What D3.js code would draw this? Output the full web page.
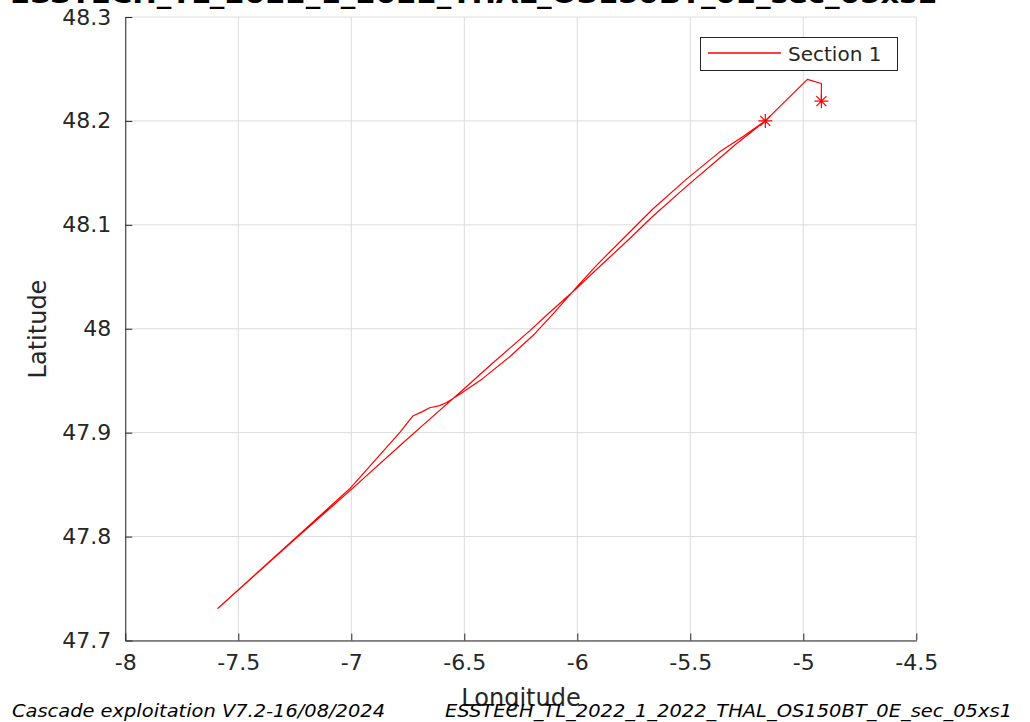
<!DOCTYPE html>
<html>
<head>
<meta charset="utf-8">
<script src="https://cdn.jsdelivr.net/npm/d3@7"></script>
<style>
  html, body { margin: 0; padding: 0; background: #ffffff; }
  svg { display: block; }
  text { font-family: "DejaVu Sans", sans-serif; fill: #262626; }
</style>
</head>
<body>
<svg id="chart" width="1030" height="722"></svg>
<script>
// Ship track of section 1 (longitude / latitude, degrees), in sailing order
const trackLon = [
  -4.920, -4.920, -4.982, -5.168,
  -5.296, -5.371, -5.517, -5.667, -5.782, -5.915, -6.003, -6.136, -6.211,
  -6.374, -6.507, -6.653, -6.772, -7.007, -7.241, -7.590,
  -7.241, -7.007, -6.909, -6.786, -6.728, -6.688, -6.653, -6.609, -6.578,
  -6.520, -6.419, -6.299, -6.189, -6.100, -6.003, -5.915, -5.782, -5.667,
  -5.517, -5.371, -5.260, -5.168
];
const trackLat = [
  48.219, 48.236, 48.240, 48.200,
  48.178, 48.164, 48.137, 48.108, 48.084, 48.057, 48.039, 48.013, 47.998,
  47.967, 47.941, 47.913, 47.890, 47.844, 47.799, 47.731,
  47.800, 47.846, 47.870, 47.900, 47.916, 47.920, 47.924, 47.926, 47.929,
  47.937, 47.952, 47.973, 47.995, 48.016, 48.040, 48.061, 48.090, 48.115,
  48.144, 48.170, 48.186, 48.200
];
// Start and end of the section, marked with asterisks
const markerLon = [trackLon[0], trackLon[trackLon.length - 1]];
const markerLat = [trackLat[0], trackLat[trackLat.length - 1]];

const xTicks = [-8, -7.5, -7, -6.5, -6, -5.5, -5, -4.5];
const yTicks = [47.7, 47.8, 47.9, 48, 48.1, 48.2, 48.3];
const seriesName = "Section 1";
const titleText = "ESSTECH_TL_2022_1_2022_THAL_OS150BT_0E_sec_05xs1";
const footLeft = "Cascade exploitation V7.2-16/08/2024";
const footRight = "ESSTECH_TL_2022_1_2022_THAL_OS150BT_0E_sec_05xs1";

const svg = d3.select("#chart");
const plot = { left: 125.3, right: 916.3, top: 17, bottom: 640.5 };

const x = d3.scaleLinear().domain([-8, -4.5]).range([plot.left, plot.right]);
const y = d3.scaleLinear().domain([47.7, 48.3]).range([plot.bottom, plot.top]);

// grid
const grid = svg.append("g").attr("stroke", "#dcdcdc").attr("stroke-width", 1);
grid.selectAll("line.gx").data(xTicks).join("line")
  .attr("x1", d => x(d)).attr("x2", d => x(d))
  .attr("y1", plot.top).attr("y2", plot.bottom);
grid.selectAll("line.gy").data(yTicks).join("line")
  .attr("x1", plot.left).attr("x2", plot.right)
  .attr("y1", d => y(d)).attr("y2", d => y(d));

// axes
const xAxis = d3.axisBottom(x).tickValues(xTicks).tickSizeInner(-7).tickSizeOuter(0)
  .tickPadding(14).tickFormat(d => d3.format("")(d).replace("−", "-"));
const yAxis = d3.axisLeft(y).tickValues(yTicks).tickSizeInner(-7).tickSizeOuter(0)
  .tickPadding(14).tickFormat(d => d3.format("")(d));

const gx = svg.append("g").attr("transform", `translate(0,${plot.bottom})`).call(xAxis);
const gy = svg.append("g").attr("transform", `translate(${plot.left},0)`).call(yAxis);
[gx, gy].forEach(g => {
  g.select(".domain").attr("stroke", "#262626").attr("stroke-width", 1);
  g.selectAll(".tick line").attr("stroke", "#262626");
  g.selectAll(".tick text").attr("fill", "#262626")
    .style("font-family", "'DejaVu Sans', sans-serif").style("font-size", "22px");
});
gx.selectAll(".tick text").attr("dy", "0.71em");

// track
const line = d3.line().x((d, i) => x(trackLon[i])).y((d, i) => y(trackLat[i]));
svg.append("path")
  .datum(trackLon)
  .attr("d", line)
  .attr("fill", "none")
  .attr("stroke", "#ff0000")
  .attr("stroke-width", 1.2)
  .attr("stroke-linejoin", "round");

// asterisk markers
const star = "M-7,0L7,0M0,-7L0,7M-5,-5L5,5M-5,5L5,-5";
svg.selectAll("path.marker").data(markerLon).join("path")
  .attr("class", "marker")
  .attr("transform", (d, i) => `translate(${x(d)},${y(markerLat[i])})`)
  .attr("d", star)
  .attr("stroke", "#ff0000")
  .attr("stroke-width", 1.2)
  .attr("fill", "none");

// legend
const leg = svg.append("g");
leg.append("rect").attr("x", 700.5).attr("y", 37.5).attr("width", 197).attr("height", 33)
  .attr("fill", "#ffffff").attr("stroke", "#262626").attr("stroke-width", 1);
leg.append("path").attr("d", "M708,53L781,53")
  .attr("stroke", "#ff0000").attr("stroke-width", 1.4).attr("fill", "none");
leg.append("text").attr("x", 788).attr("y", 61).style("font-size", "20px").text(seriesName);

// axis labels
svg.append("text").attr("x", 521).attr("y", 706).attr("text-anchor", "middle")
  .style("font-size", "24px").text("Longitude");
svg.append("text").attr("transform", "translate(46,329) rotate(-90)")
  .attr("text-anchor", "middle").style("font-size", "24px").text("Latitude");

// title (sits partly above the page)
svg.append("text").attr("x", 10).attr("y", 3)
  .attr("textLength", 927).attr("lengthAdjust", "spacingAndGlyphs")
  .style("font-size", "24px").style("font-weight", "bold").style("fill", "#000000")
  .text(titleText);

// footers
svg.append("text").attr("x", 12).attr("y", 717)
  .attr("textLength", 373).attr("lengthAdjust", "spacingAndGlyphs")
  .style("font-size", "18px").style("font-style", "italic").style("fill", "#000000")
  .text(footLeft);
svg.append("text").attr("x", 445).attr("y", 717)
  .attr("textLength", 567).attr("lengthAdjust", "spacingAndGlyphs")
  .style("font-size", "18px").style("font-style", "italic").style("fill", "#000000")
  .text(footRight);
</script>
</body>
</html>
